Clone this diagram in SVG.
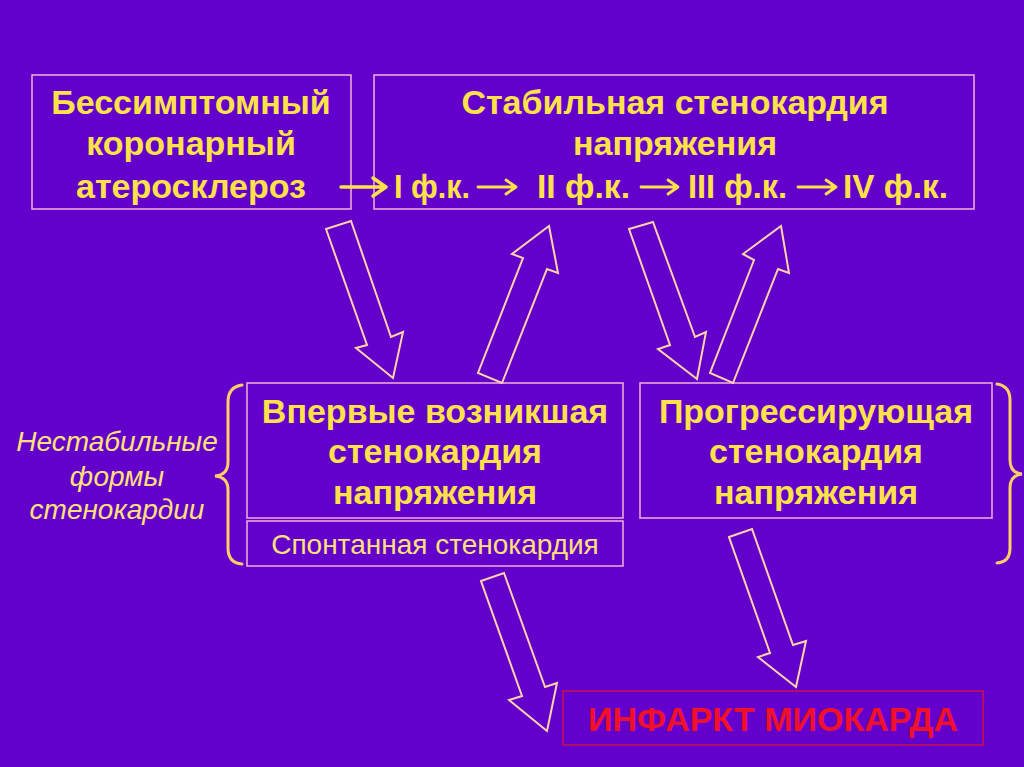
<svg xmlns="http://www.w3.org/2000/svg" width="1024" height="767" viewBox="0 0 1024 767">
<style>
.box{fill:none;stroke:#F4B0D8;stroke-width:1.5}
.red{fill:none;stroke:#D0104A;stroke-width:1.5}
.t{font-family:"Liberation Sans",Arial,sans-serif;font-weight:bold;font-size:34px;fill:#FFE24A;text-anchor:middle}
.fk{font-family:"Liberation Sans",Arial,sans-serif;font-weight:bold;font-size:34px;fill:#FFE24A}
.s{font-family:"Liberation Sans",Arial,sans-serif;font-size:28px;fill:#FFE07A;text-anchor:middle}
.i{font-family:"Liberation Sans",Arial,sans-serif;font-style:italic;font-size:28px;fill:#FFE07A;text-anchor:middle}
.r{font-family:"Liberation Sans",Arial,sans-serif;font-weight:bold;font-size:34px;fill:#F0102A;text-anchor:middle}
.arr{fill:none;stroke:#FFD2A8;stroke-width:2;stroke-linejoin:miter}
.brace{fill:none;stroke:#FFCC66;stroke-width:3;stroke-linecap:round}
.ya{fill:none;stroke:#FFE24A;stroke-width:2.8;stroke-linecap:round;stroke-linejoin:round}
</style>
<rect width="1024" height="767" fill="#6300CC"/>
<g id="asymptomatic">
<rect class="box" x="32" y="75" width="319" height="134"/>
<text class="t" x="191" y="114">Бессимптомный</text>
<text class="t" x="191" y="155">коронарный</text>
<text class="t" x="191" y="198">атеросклероз</text>
</g>
<g id="stable">
<rect class="box" x="374" y="75" width="600" height="134"/>
<text class="t" x="675" y="114">Стабильная стенокардия</text>
<text class="t" x="675" y="155">напряжения</text>
<text class="fk" x="394" y="198" textLength="76" lengthAdjust="spacingAndGlyphs">I ф.к.</text>
<text class="fk" x="537" y="198" textLength="93" lengthAdjust="spacingAndGlyphs">II ф.к.</text>
<text class="fk" x="688" y="198" textLength="99" lengthAdjust="spacingAndGlyphs">III ф.к.</text>
<text class="fk" x="843" y="198" textLength="105" lengthAdjust="spacingAndGlyphs">IV ф.к.</text>
<path class="ya" d="M341,187 L385,187 M373,178 L386,187 L373,196" style="stroke-width:3.5"/>
<path class="ya" d="M478,187 L515,187 M506,180 L516,187 L506,194"/>
<path class="ya" d="M641,187 L677,187 M668,180 L678,187 L668,194"/>
<path class="ya" d="M798,187 L835,187 M826,180 L836,187 L826,194"/>
</g>
<g id="new-onset">
<rect class="box" x="247" y="383" width="376" height="135"/>
<text class="t" x="435" y="423">Впервые возникшая</text>
<text class="t" x="435" y="463">стенокардия</text>
<text class="t" x="435" y="504">напряжения</text>
</g>
<g id="spontaneous">
<rect class="box" x="247" y="521" width="376" height="45"/>
<text class="s" x="435" y="554">Спонтанная стенокардия</text>
</g>
<g id="progressive">
<rect class="box" x="640" y="383" width="352" height="135"/>
<text class="t" x="816" y="423">Прогрессирующая</text>
<text class="t" x="816" y="463">стенокардия</text>
<text class="t" x="816" y="504">напряжения</text>
</g>
<g id="unstable-label">
<text class="i" x="117" y="451">Нестабильные</text>
<text class="i" x="117" y="486">формы</text>
<text class="i" x="117" y="519">стенокардии</text>
<path class="brace" d="M242,385 Q228,387 228,402 L228,462 Q228,475 215,476 Q228,477 228,490 L228,548 Q228,563 242,564"/>
<path class="brace" d="M997,384 Q1010,386 1010,400 L1010,460 Q1010,473 1022,474 Q1010,475 1010,488 L1010,548 Q1010,562 997,563"/>
</g>
<g id="infarction">
<rect class="red" x="563" y="691" width="420" height="54"/>
<text class="r" x="773" y="731">ИНФАРКТ МИОКАРДА</text>
</g>
<g id="connectors">
<polygon class="arr" points="326,229 351,221 391,337 403,332 393,378 356,348 367,345"/>
<polygon class="arr" points="549,226 558,273 547,269 502,383 478,373 523,258 512,254"/>
<polygon class="arr" points="629,229 653,222 695,337 706,332 697,379 658,349 670,345"/>
<polygon class="arr" points="781,226 789,273 778,269 733,383 710,373 754,260 743,254"/>
<polygon class="arr" points="481,581 504,573 545,687 557,683 547,731 509,700 522,696"/>
<polygon class="arr" points="729,537 752,529 793,645 806,641 796,687 758,657 770,653"/>
</g>
</svg>
